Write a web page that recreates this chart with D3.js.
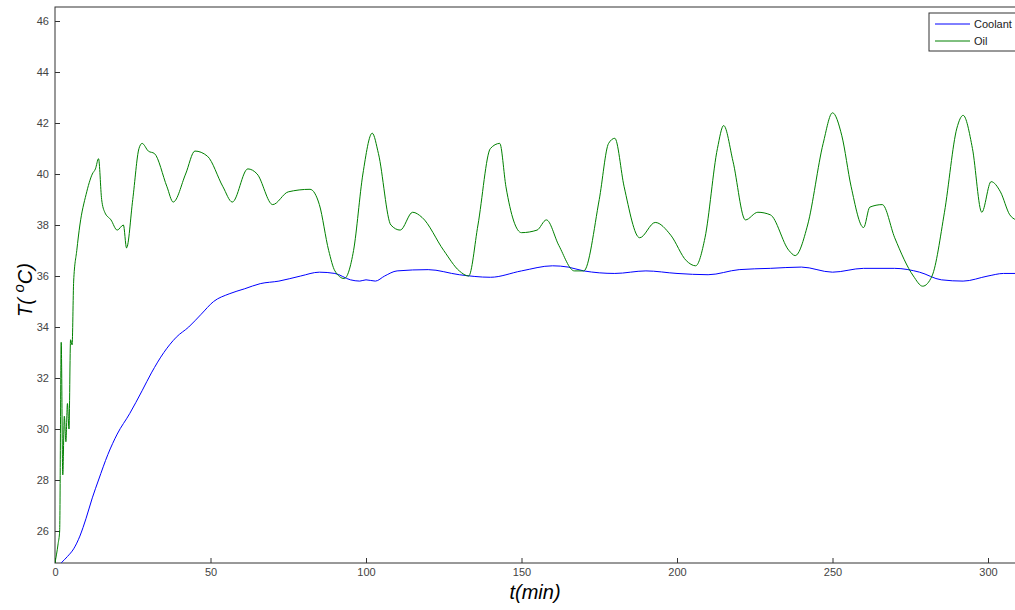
<!DOCTYPE html>
<html><head><meta charset="utf-8">
<script src="https://cdn.jsdelivr.net/npm/d3@7/dist/d3.min.js"></script>
<style>body{margin:0;background:#fff}</style></head>
<body><svg id="c" width="1015" height="610"></svg>
<script>
const coolantT=[2,4,6,8,10,12,14,17,20,24,28,31,35,39,43,47,51,56,61,66,72,79,85,90,95,98,100,103,106,110,120,130,140,150,160,165,170,180,190,200,210,220,230,240,250,260,270,278,285,292,300,305,309];
const coolantV=[24.75,25,25.3,25.8,26.5,27.3,28,29,29.8,30.6,31.5,32.2,33,33.6,34,34.5,35,35.3,35.5,35.7,35.8,36,36.15,36.1,35.85,35.8,35.85,35.8,36,36.2,36.25,36.05,35.95,36.2,36.4,36.35,36.2,36.1,36.2,36.1,36.05,36.25,36.3,36.35,36.15,36.3,36.3,36.15,35.85,35.8,36,36.1,36.1];
const oilT=[0,1,1.5,2,2.5,3,3.5,4,4.5,5,5.5,6,7,8,10,12,13,14,15,16,18,20,22,23,25,27,28,30,32,36,38,42,45,49,54,57,62,65,70,75,82,85,88,90,93,96,99,102,104,108,111,115,118,125,130,133,136,140,143,145,150,155,158,162,167,170,175,178,180,183,188,193,198,203,206,209,213,215,218,222,226,230,236,238,242,247,250,253,256,260,262,266,270,276,279,282,286,290,292,295,298,301,304,307,309];
const oilV=[24.75,25.5,26,33.4,28.2,30.5,29.5,31,30,33.5,33.3,35.8,37,38,39.2,40,40.2,40.6,39,38.5,38.2,37.8,38,37.1,39,41,41.2,40.9,40.8,39.5,38.9,40,40.9,40.7,39.5,38.9,40.2,40,38.8,39.3,39.4,38.8,37,36.2,35.9,37,40,41.6,40.8,38,37.8,38.5,38.3,37,36.2,36,38,41,41.2,39.5,37.7,37.8,38.2,37.2,36.2,36.2,39,41.2,41.4,39.5,37.5,38.1,37.6,36.6,36.4,37.5,41,41.9,40.5,38.2,38.5,38.4,37,36.8,38,41.2,42.4,41.5,39.5,37.9,38.7,38.8,37.5,36,35.6,36,38.5,41.8,42.3,41,38.5,39.7,39.3,38.4,38.2];
const xTicks=[0,50,100,150,200,250,300];
const yTicks=[26,28,30,32,34,36,38,40,42,44,46];

const svg=d3.select("#c");
const L=55,R=1015,T=7,B=563;
const x=d3.scaleLinear().domain([0,300]).range([L,988]);
const y=d3.scaleLinear().domain([26,36]).range([531,276]);
svg.append("rect").attr("x",L).attr("y",T).attr("width",R-L+5).attr("height",B-T).attr("fill","none").attr("stroke","#333");
svg.append("clipPath").attr("id","cl").append("rect").attr("x",L).attr("y",T).attr("width",R-L).attr("height",B-T);
const xa=svg.append("g").attr("transform",`translate(0,${B})`).call(d3.axisBottom(x).tickValues(xTicks).tickSize(-5).tickPadding(5));
const ya=svg.append("g").attr("transform",`translate(${L},0)`).call(d3.axisLeft(y).tickValues(yTicks).tickSize(-5).tickPadding(6));
[xa,ya].forEach(a=>{a.select(".domain").remove();a.selectAll("line").attr("stroke","#333");a.selectAll("text").attr("fill","#444").style("font-family","Liberation Sans, Arial").style("font-size","11px");});
const line=(xs,vs,c)=>d3.line().curve(c).x((d,i)=>x(xs[i])).y(d=>y(d))(vs);
svg.append("path").attr("d",line(coolantT,coolantV,d3.curveMonotoneX)).attr("fill","none").attr("stroke","#0000ff").attr("stroke-width",1).attr("clip-path","url(#cl)");
svg.append("path").attr("d",line(oilT,oilV,d3.curveMonotoneX)).attr("fill","none").attr("stroke","#008000").attr("stroke-width",1).attr("clip-path","url(#cl)");
svg.append("text").attr("x",(L+R)/2).attr("y",599).attr("text-anchor","middle").style("font-family","Liberation Sans, Arial").style("font-size","20px").style("font-style","italic").text("t(min)");
const yl=svg.append("text").attr("transform","translate(32,290) rotate(-90)").attr("text-anchor","middle").style("font-family","Liberation Sans, Arial").style("font-size","20px").style("font-style","italic");
yl.append("tspan").text("T( ");yl.append("tspan").attr("dy",-8).style("font-size","15px").text("o");yl.append("tspan").attr("dy",8).text("C)");
const lg=svg.append("g");
lg.append("rect").attr("x",929).attr("y",13).attr("width",90).attr("height",38).attr("fill","#fff").attr("stroke","#333");
[["Coolant","#0000ff",24],["Oil","#008000",41]].forEach(([n,c,yy])=>{
lg.append("line").attr("x1",935).attr("x2",970).attr("y1",yy).attr("y2",yy).attr("stroke",c);
lg.append("text").attr("x",974).attr("y",yy+4).style("font-family","Liberation Sans, Arial").style("font-size","11px").attr("fill","#222").text(n);});
</script></body></html>
